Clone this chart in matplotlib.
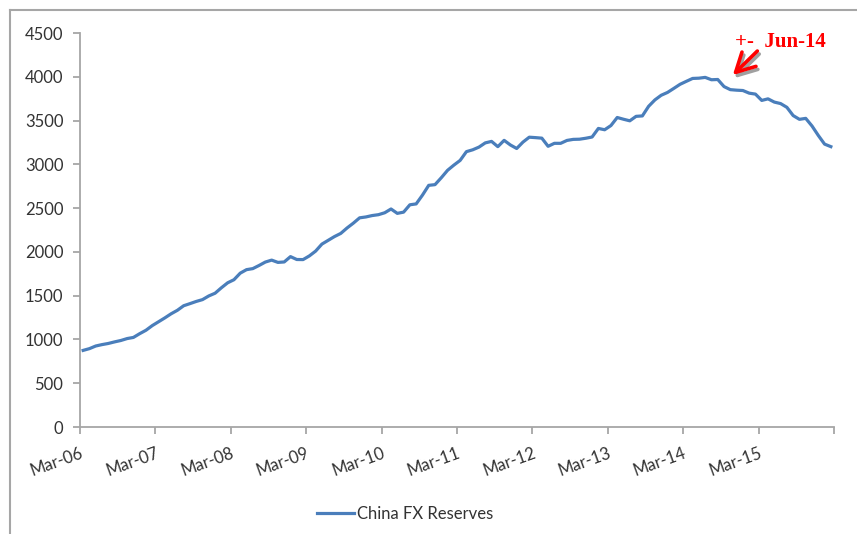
from matplotlib import pyplot as plt
from matplotlib.lines import Line2D

# Monthly China FX reserves, USD bn, Mar-2006 .. Feb-2016
reserves_2006 = [875, 895, 925, 941, 954, 972, 988, 1010, 1023, 1066]
reserves_2007 = [1105, 1158, 1202, 1246, 1293, 1333, 1385, 1409, 1434, 1455, 1497, 1528]
reserves_2008 = [1590, 1647, 1682, 1757, 1797, 1809, 1845, 1884, 1906, 1880, 1885, 1946]
reserves_2009 = [1913, 1912, 1954, 2009, 2089, 2132, 2175, 2211, 2273, 2328, 2389, 2399]
reserves_2010 = [2415, 2425, 2447, 2490, 2440, 2454, 2538, 2548, 2648, 2760, 2768, 2847]
reserves_2011 = [2932, 2991, 3045, 3145, 3166, 3197, 3245, 3262, 3202, 3274, 3221, 3181]
reserves_2012 = [3254, 3310, 3305, 3299, 3206, 3240, 3240, 3273, 3285, 3287, 3298, 3312]
reserves_2013 = [3410, 3395, 3443, 3535, 3515, 3497, 3548, 3553, 3663, 3736, 3789, 3821]
reserves_2014 = [3867, 3914, 3948, 3981, 3984, 3993, 3966, 3969, 3888, 3853, 3847, 3843]
reserves_2015 = [3813, 3802, 3730, 3748, 3711, 3694, 3651, 3557, 3514, 3525, 3438, 3330]
reserves_2016 = [3231, 3202]

tick_labels = ['Mar-06', 'Mar-07', 'Mar-08', 'Mar-09', 'Mar-10',
               'Mar-11', 'Mar-12', 'Mar-13', 'Mar-14', 'Mar-15', '']
y_ticks = [0, 500, 1000, 1500, 2000, 2500, 3000, 3500, 4000, 4500]

reserves = (reserves_2006 + reserves_2007 + reserves_2008 + reserves_2009 +
            reserves_2010 + reserves_2011 + reserves_2012 + reserves_2013 +
            reserves_2014 + reserves_2015 + reserves_2016)

plt.rcParams['font.family'] = ['Lato', 'DejaVu Sans']

fig = plt.figure(figsize=(8.57, 5.34), dpi=100)
ax = fig.add_axes([80 / 857, 1 - 427 / 534, 754 / 857, 394 / 534])

# points sit in the middle of each month slot
x = [i + 0.5 for i in range(len(reserves))]
line, = ax.plot(x, reserves, color='#4a7ebb', lw=2.3, solid_joinstyle='round',
                label='China FX Reserves')

ax.set_xlim(0, 120)
ax.set_ylim(0, 4500)
ax.set_xticks(range(0, 121, 12))
ax.set_xticklabels(tick_labels, rotation=20, ha='right', rotation_mode='anchor')
ax.set_yticks(y_ticks)

for side in ['top', 'right']:
    ax.spines[side].set_visible(False)
for side in ['left', 'bottom']:
    ax.spines[side].set_color('#a6a6a6')
    ax.spines[side].set_linewidth(1.3)
ax.tick_params(axis='both', colors='#a6a6a6', labelcolor='#333333',
               labelsize=12, length=5, width=1.3)
ax.tick_params(axis='y', pad=7)
ax.tick_params(axis='x', pad=8)

# Jun-14 marker with a drop shadow arrow
arrow_style = '->, head_length=0.75, head_width=0.4'
ax.annotate('', xy=(104.2, 3985), xytext=(108.1, 4260), annotation_clip=False,
            arrowprops=dict(arrowstyle=arrow_style, color='#a0a0a0', lw=2.6,
                            shrinkA=0, shrinkB=0, mutation_scale=18))
ax.annotate('', xy=(103.9, 4020), xytext=(107.8, 4294), annotation_clip=False,
            arrowprops=dict(arrowstyle=arrow_style, color='red', lw=2.6,
                            shrinkA=0, shrinkB=0, mutation_scale=18))
ax.text(104.25, 4340, '+-  Jun-14', color='red', fontsize=15, fontweight='bold',
        family='Liberation Serif', va='baseline', ha='left', clip_on=False)

fig.legend(handles=[line], loc='center', frameon=False, fontsize=12,
           handlelength=2.2, handletextpad=0.2, labelcolor='#333333',
           bbox_to_anchor=(405 / 857, 1 - 514 / 534))

# outer chart frame
frame_kw = dict(color='#a6a6a6', lw=1.5, transform=fig.transFigure)
fig.add_artist(Line2D([10 / 857, 1.0], [1 - 10 / 534, 1 - 10 / 534], **frame_kw))
fig.add_artist(Line2D([10 / 857, 10 / 857], [0.0, 1 - 10 / 534], **frame_kw))

fig.savefig('out.png', dpi=100)
